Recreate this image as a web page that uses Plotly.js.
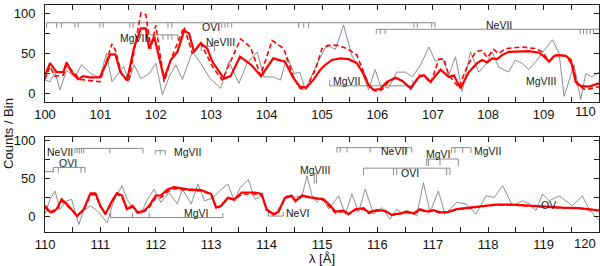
<!DOCTYPE html>
<html>
<head>
<meta charset="utf-8">
<script src="https://cdn.plot.ly/plotly-3.0.1.min.js"></script>
<style>html,body{margin:0;padding:0;background:#fff;}#chart{width:600px;height:266px;}</style>
</head>
<body>
<div id="chart"></div>
<script>
// ---------- DATA ----------
// Top panel, 100-110 Å
const topObsWl = [100.0,100.09,100.18,100.27,100.39,100.54,100.66,100.81,100.99,101.11,101.21,101.42,101.51,101.61,101.73,101.88,102.0,102.12,102.24,102.36,102.48,102.66,102.81,102.98,103.17,103.32,103.5,103.65,103.83,103.95,104.13,104.25,104.37,104.5,104.6,104.7,104.88,105.09,105.24,105.39,105.54,105.72,105.84,105.96,106.05,106.2,106.35,106.51,106.63,106.78,106.93,107.05,107.17,107.29,107.41,107.53,107.68,107.83,107.95,108.07,108.19,108.37,108.49,108.61,108.73,108.86,109.01,109.16,109.28,109.37,109.55,109.67,109.76,109.88,110.0];
const topObsCnt = [17,15,27,5,29,21,36,26,20,50,15,34,15,36,19,25,38,-1,21,36,18,52,38,19,7,40,13,38,52,21,21,17,46,25,27,5,33,61,55,85,47,27,5,30,11,7,27,27,21,36,58,40,44,23,46,3,52,27,36,52,33,27,42,38,30,40,54,67,50,-3,36,-7,25,21,27];

const topModelAWl = [100.0,100.09,100.21,100.33,100.39,100.48,100.6,100.69,100.8,100.99,101.18,101.27,101.36,101.48,101.61,101.73,101.82,101.88,101.97,102.15,102.27,102.39,102.51,102.6,102.69,102.81,102.93,103.02,103.23,103.35,103.52,103.72,103.9,104.12,104.33,104.48,104.6,104.72,104.84,104.97,105.06,105.18,105.33,105.48,105.63,105.75,105.84,105.93,106.05,106.17,106.33,106.45,106.6,106.75,106.84,106.96,107.14,107.29,107.38,107.5,107.65,107.8,107.89,107.98,108.07,108.16,108.25,108.37,108.73,108.92,109.01,109.1,109.19,109.28,109.4,109.49,109.58,109.67,109.82,110.0];
const topModelACnt = [23,38,27,27,39,27,18,22,20.5,20.5,49,49,27,17,58,81,81,56,71,19,42,52,78,75,52,63,56,40,19,22,46,36,22,44,40,20,9,8,17,30,36,42,44,43,38,25,11,5,6,15,20,16,7,21,23,15,30,21,23,7,27,38,42,39,44,43,48,52,53,51,46,40,47,48,47,42,15,10,9,13];

const topModelBWl = [100.0,100.09,100.18,100.33,100.39,100.48,100.63,100.99,101.21,101.27,101.39,101.51,101.61,101.73,101.82,101.91,102.0,102.15,102.27,102.51,102.66,102.81,103.02,103.2,103.53,103.71,103.89,104.1,104.31,104.49,104.6,104.7,104.88,105.0,105.12,105.3,105.48,105.63,105.75,105.87,105.99,106.08,106.2,106.33,106.48,106.6,106.75,106.84,106.96,107.11,107.2,107.29,107.47,107.62,107.77,107.89,107.98,108.1,108.19,108.31,108.61,108.86,108.98,109.1,109.22,109.4,109.52,109.61,109.76,109.94,110.0];
const topModelBCnt = [18,34,22,23,36,29,18,15,62,54,23,15,52,100,98,56,85,15,42,83,50,63,34,17,68,58,23,66,56,20,7,5,30,56,60,60,55,48,27,7,3,5,15,20,15,6,23,23,13,43,43,23,8,34,52,54,45,55,50,56,58,56,52,40,48,47,36,11,5,8,9];

// Bottom panel, 110-120 Å
const botObsWl = [110.0,110.09,110.18,110.27,110.39,110.48,110.61,110.7,110.82,110.94,111.0,111.12,111.24,111.39,111.48,111.58,111.73,111.85,111.97,112.09,112.24,112.39,112.48,112.64,112.76,112.88,113.03,113.18,113.3,113.42,113.52,113.67,113.79,113.91,114.03,114.15,114.27,114.36,114.52,114.64,114.73,114.82,114.91,115.0,115.12,115.3,115.42,115.54,115.66,115.78,115.93,116.08,116.23,116.35,116.47,116.62,116.71,116.83,116.95,117.1,117.22,117.43,117.6,117.78,117.96,118.11,118.26,118.44,118.62,118.74,118.86,118.98,119.1,119.28,119.52,119.7,119.82,120.0];
const botObsCnt = [3.5,23,34,10,21,23,-10,8,14.5,8,3.5,-8,21,41,23,12,3.5,23,36,19,32,17,36,17,43,21,25,36,43,21,38,49,23,27,6,3.5,17,28,26,27.6,54,27.6,19,25.5,10,27.6,3.5,30,6,36.5,3.5,12,-3,10,3.5,6,1,45,6,34,3.5,19,17,3.5,27.6,25.5,41,14.5,21,17,8,30,21,27.6,14.5,27.6,10,-5];

const botModelAWl = [110.0,110.09,110.21,110.3,110.39,110.58,110.7,110.82,110.91,111.0,111.09,111.21,111.3,111.39,111.48,111.58,111.67,111.79,111.88,112.0,112.09,112.21,112.33,112.58,112.82,113.0,113.09,113.18,113.3,113.42,113.55,113.79,113.91,114.0,114.12,114.21,114.33,114.45,114.52,114.64,114.79,115.03,115.15,115.24,115.39,115.48,115.6,115.75,115.84,115.99,116.14,116.26,116.41,116.53,116.65,116.77,116.89,117.01,117.13,117.28,117.43,117.66,117.9,118.14,118.44,118.74,119.04,119.34,119.64,119.94,120.0];
const botModelACnt = [14.5,6,10,23,17,1,10,31,31,14.5,3.5,21,31,28,10,14.5,6,8,14.5,28,28,36,39,36,35,30,12,14.5,25,23,32,32,30,10,3.5,6,25,28,21,28,25.5,23,14.5,7,8,3.5,10,11.4,5.8,8.8,8,2.6,4.4,7,4.4,10,7,8.8,5.8,6.5,10,12,14.5,16,16,14.5,13,12,11.4,8.8,8.5];
const botModelBWl = botModelAWl;
const botModelBCnt = [12,5,8,21,15,2,8,29,29,13,4,20,30,26,9,13,5,7,12,25,25,33,37,35,34,29,11,14,24,22,30,30,28,9,3,5,24,27,20,27,25,22,12,5,7,3,9,10,4.5,8,7,2,4,6,3.5,9,6,8,5,6,9.5,11.5,14,15.5,15.5,14,12.5,11.5,11,8.5,8];

// Line identifications (wavelengths, Å)
const idTopOVI    = [100.03,100.21,100.30,100.54,100.60,100.99,101.05,101.53,101.59,102.22,102.29,103.19,103.25,103.30,103.37,104.58,104.67,104.76,106.66,106.72,106.98,107.04];
const idTopNeVII  = [105.98,106.05,106.14,109.66,109.72,109.78,109.84,109.90];
const idTopMgVIIa = [101.84,102.13,102.22,102.29,102.40];
const idTopNeVIII = [102.82,103.06];
const idTopMgVIIb = [105.14,106.64];
const idBotNeVIIa = [110.54,110.58,110.62,110.66,110.70,111.17,111.77];
const idBotMgVIIa = [111.99,112.08,112.17];
const idBotOVIa   = [110.15,110.24,110.65,110.72];
const idBotOVIc   = [110.0,110.15];
const idBotMgVIa  = [111.18,111.58,111.88,113.21];
const idBotNeVI   = [114.03,114.12,114.30];
const idBotMgVIII = [114.86,114.90];
const idBotNeVIIb = [115.27,115.33,115.45,115.87,116.53,116.62];
const idBotMgVIb  = [116.89,116.92,117.13,117.46];
const idBotOVIb   = [115.75,116.29,116.35,117.25,117.31];
const idBotMgVIIb = [117.34,117.40,117.54,117.69];

const topTickLabels = ['100','101','102','103','104','105','106','107','108','109','110'];
const botTickLabels = ['110','111','112','113','114','115','116','117','118','119','120'];

// ---------- presentation (positions / styles) ----------
const idGroups = [
  {wl: idTopOVI,    p: 1, lev: 88, tk: 6,  span: null, lab: 'OVI',    lx: 103.0,  ly: 83},
  {wl: idTopNeVII,  p: 1, lev: 80, tk: 6,  span: [105.98, 110.2], lab: 'NeVII', lx: 108.2, ly: 85},
  {wl: idTopMgVIIa, p: 1, lev: 73, tk: 6,  span: null, lab: 'MgVII',  lx: 101.6,  ly: 69},
  {wl: idTopNeVIII, p: 1, lev: 59, tk: 6,  span: null, lab: 'NeVIII', lx: 103.16, ly: 64.5},
  {wl: idTopMgVIIb, p: 1, lev: 10, tk: -7, span: null, lab: 'MgVII',  lx: 105.44, ly: 16.5},
  {wl: [],          p: 1, lev: 0,  tk: 0,  span: null, lab: 'MgVIII', lx: 108.95, ly: 16},
  {wl: idBotNeVIIa, p: 2, lev: 90, tk: 6.5, span: null, lab: 'NeVII', lx: 110.27, ly: 85},
  {wl: idBotMgVIIa, p: 2, lev: 87, tk: 5,  span: null, lab: 'MgVII',  lx: 112.58, ly: 85},
  {wl: idBotOVIa,   p: 2, lev: 65, tk: 7,  span: null, lab: 'OVI',    lx: 110.42, ly: 71},
  {wl: idBotOVIc,   p: 2, lev: 59.5, tk: 0, span: null, lab: '',      lx: 0,      ly: 0},
  {wl: idBotMgVIa,  p: 2, lev: -1, tk: -6, span: null, lab: 'MgVI',   lx: 112.73, ly: 5},
  {wl: idBotNeVI,   p: 2, lev: 1,  tk: -5, span: null, lab: 'NeVI',   lx: 114.55, ly: 5},
  {wl: idBotMgVIII, p: 2, lev: 57, tk: 13, span: null, lab: 'MgVIII', lx: 114.87, ly: 61},
  {wl: idBotNeVIIb, p: 2, lev: 91, tk: 6.5, span: null, lab: 'NeVII', lx: 116.3,  ly: 86},
  {wl: idBotMgVIb,  p: 2, lev: 76, tk: 9,  span: null, lab: 'MgVI',   lx: 117.11, ly: 83},
  {wl: idBotOVIb,   p: 2, lev: 64, tk: 9,  span: null, lab: 'OVI',    lx: 116.59, ly: 57},
  {wl: idBotMgVIIb, p: 2, lev: 91, tk: 7,  span: null, lab: 'MgVII',  lx: 117.99, ly: 86},
  {wl: [],          p: 2, lev: 0,  tk: 0,  span: null, lab: 'OV',     lx: 119.08, ly: 16}
];

const FONT = 'Liberation Sans, Arial, Helvetica, sans-serif';
const RED = '#ff0000';
const GRAY = '#808080';
const IDGRAY = '#8a8a8a';

const traces = [];
const annotations = [];

function addSpectra(p, obsX, obsY, aX, aY, bX, bY) {
  const xa = p === 1 ? 'x' : 'x2', ya = p === 1 ? 'y' : 'y2';
  traces.push({x: obsX, y: obsY, xaxis: xa, yaxis: ya, mode: 'lines', line: {color: GRAY, width: 0.9}, hoverinfo: 'skip'});
  traces.push({x: bX, y: bY, xaxis: xa, yaxis: ya, mode: 'lines', line: {color: RED, width: 1.6, dash: '5px,3px'}, hoverinfo: 'skip'});
  traces.push({x: aX, y: aY, xaxis: xa, yaxis: ya, mode: 'lines', line: {color: RED, width: 2.2}, hoverinfo: 'skip'});
}

// line-ID brackets (drawn first so spectra sit on top)
idGroups.forEach(g => {
  const xa = g.p === 1 ? 'x' : 'x2', ya = g.p === 1 ? 'y' : 'y2';
  if (g.wl.length) {
    const lo = g.span ? g.span[0] : Math.min(...g.wl);
    const hi = g.span ? g.span[1] : Math.max(...g.wl);
    const xs = [lo, hi], ys = [g.lev, g.lev];
    if (g.tk !== 0) {
      g.wl.forEach(w => { xs.push(null, w, w); ys.push(null, g.lev, g.lev - g.tk); });
    }
    traces.push({x: xs, y: ys, xaxis: xa, yaxis: ya, mode: 'lines', line: {color: IDGRAY, width: 1}, hoverinfo: 'skip', connectgaps: false});
  }
  if (g.lab) {
    annotations.push({x: g.lx, y: g.ly, xref: xa, yref: ya, text: g.lab, showarrow: false,
      font: {family: FONT, size: 10.5, color: '#1a1a1a'}, xanchor: 'center', yanchor: 'middle'});
  }
});

addSpectra(1, topObsWl, topObsCnt, topModelAWl, topModelACnt, topModelBWl, topModelBCnt);
addSpectra(2, botObsWl, botObsCnt, botModelAWl, botModelACnt, botModelBWl, botModelBCnt);

function xTicks(start, labels) {
  const vals = [], text = [];
  for (let i = 0; i < labels.length; i++) {
    vals.push(start + i);
    text.push(i === labels.length - 1 ? '' : labels[i]);
    if (i < labels.length - 1) { vals.push(start + i + 0.5); text.push(''); }
  }
  return {vals, text};
}
const tt = xTicks(100, topTickLabels);
const tb = xTicks(110, botTickLabels);

const axCommon = {
  showline: true, linecolor: '#222', linewidth: 1, mirror: 'ticks',
  ticks: 'inside', ticklen: 5, tickcolor: '#222', tickwidth: 1,
  showgrid: false, zeroline: false,
  tickfont: {family: FONT, size: 13, color: '#111'}
};

// last labels ("110", "120") pulled inside the frame edge
annotations.push({x: 110, xref: 'x', y: 0.530, yref: 'paper', text: topTickLabels[topTickLabels.length - 1],
  showarrow: false, xanchor: 'right', yanchor: 'middle', xshift: -1, font: {family: FONT, size: 13, color: '#111'}});
annotations.push({x: 120, xref: 'x2', y: -0.05, yref: 'paper', text: botTickLabels[botTickLabels.length - 1],
  showarrow: false, xanchor: 'right', yanchor: 'middle', xshift: -1, font: {family: FONT, size: 13, color: '#111'}});
annotations.push({x: -0.067, xref: 'paper', y: 0.436, yref: 'paper', text: 'Counts / Bin', textangle: -90,
  showarrow: false, xanchor: 'center', yanchor: 'middle', font: {family: FONT, size: 13, color: '#111'}});

const layout = {
  width: 600, height: 266,
  margin: {l: 45, r: 1, t: 5, b: 34},
  paper_bgcolor: '#fff', plot_bgcolor: '#fff',
  showlegend: false,
  xaxis: Object.assign({}, axCommon, {domain: [0, 1], range: [100, 110], anchor: 'y',
    tickmode: 'array', tickvals: tt.vals, ticktext: tt.text}),
  yaxis: Object.assign({}, axCommon, {domain: [0.5727, 1], range: [-10, 110], anchor: 'x',
    tickmode: 'array', tickvals: [0, 25, 50, 75, 100], ticktext: ['0', '', '50', '', '100'], ticklabelstandoff: 6}),
  xaxis2: Object.assign({}, axCommon, {domain: [0, 1], range: [110, 120], anchor: 'y2',
    tickmode: 'array', tickvals: tb.vals, ticktext: tb.text,
    title: {text: 'λ [Å]', font: {family: FONT, size: 13, color: '#111'}, standoff: 2}}),
  yaxis2: Object.assign({}, axCommon, {domain: [0, 0.4185], range: [-20, 105], anchor: 'x2',
    tickmode: 'array', tickvals: [0, 25, 50, 75, 100], ticktext: ['0', '', '50', '', '100'], ticklabelstandoff: 6}),
  annotations: annotations
};

Plotly.newPlot('chart', traces, layout, {staticPlot: true, displayModeBar: false});
</script>
</body>
</html>
